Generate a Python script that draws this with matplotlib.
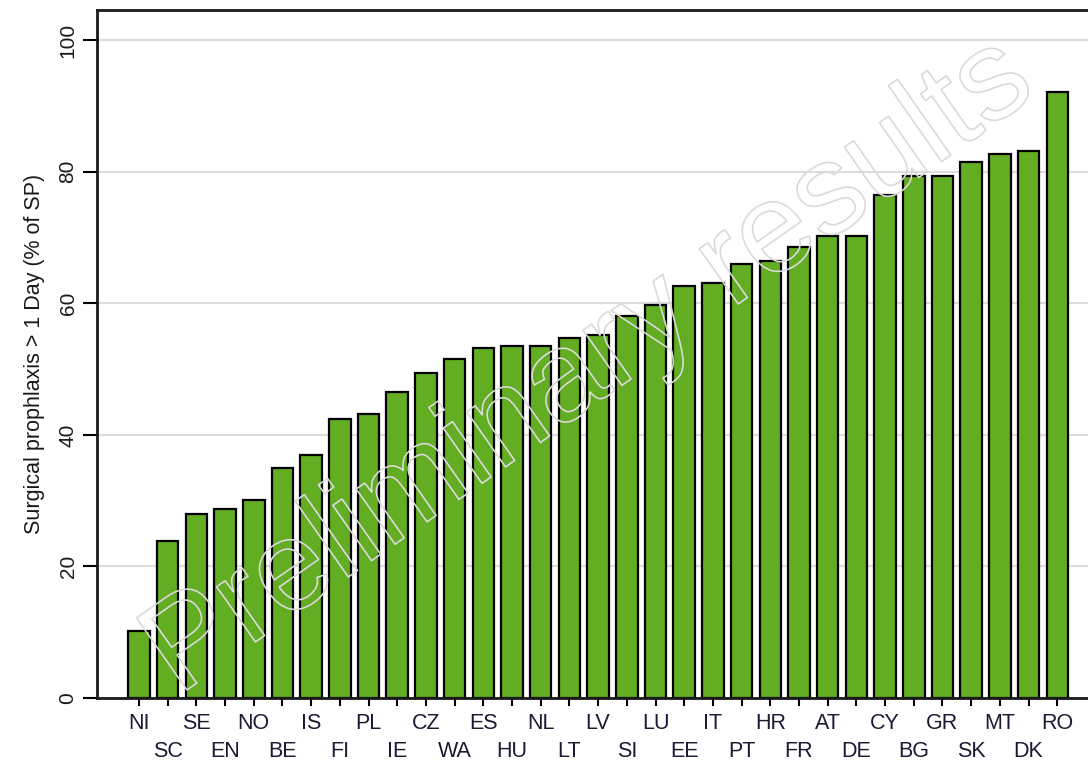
import matplotlib
matplotlib.use("Agg")
import matplotlib.pyplot as plt
import matplotlib.patheffects as pe

# Country codes (sorted ascending) and % of surgical prophylaxis > 1 day
countries = ["NI", "SC", "SE", "EN", "NO", "BE", "IS", "FI", "PL", "IE", "CZ",
             "WA", "ES", "HU", "NL", "LT", "LV", "SI", "LU", "EE", "IT", "PT",
             "HR", "FR", "AT", "DE", "CY", "BG", "GR", "SK", "MT", "DK", "RO"]
values = [10.2, 23.8, 27.9, 28.8, 30.1, 35.0, 37.0, 42.4, 43.2, 46.5, 49.4,
          51.5, 53.2, 53.5, 53.5, 54.8, 55.2, 58.0, 59.8, 62.7, 63.1, 66.0,
          66.4, 68.5, 70.2, 70.2, 76.5, 79.4, 79.4, 81.5, 82.7, 83.2, 92.2]
y_ticks = [0, 20, 40, 60, 80, 100]

plt.rcParams['font.family'] = ['Liberation Sans', 'DejaVu Sans']

fig = plt.figure(figsize=(10.88, 7.75), dpi=100)
ax = fig.add_axes([0.0892, 0.0994, 0.9108, 0.8877])

x = list(range(len(countries)))
ax.bar(x, values, width=0.75, color='#62ad22', edgecolor='black', linewidth=1.6, zorder=2)

ax.set_xlim(-1.46, 33.07)
ax.set_ylim(0, 104.6)

# grid
ax.set_yticks(y_ticks)
ax.set_yticklabels([str(v) for v in y_ticks], rotation=90, va='center', fontsize=15, color='#1a1a1a')
ax.yaxis.grid(True, color='#dcdcdc', linewidth=1.5, zorder=0)
ax.set_axisbelow(True)

# two-row x labels
labels = [c if i % 2 == 0 else "\n" + c for i, c in enumerate(countries)]
ax.set_xticks(x)
ax.set_xticklabels(labels, fontsize=15.5, color='#1a1a33', linespacing=1.4)
ax.tick_params(axis='x', length=6, width=1.5, direction='out', pad=5)
ax.tick_params(axis='y', length=10, width=1.5, direction='out', pad=4)

for side in ['left', 'bottom', 'top']:
    ax.spines[side].set_linewidth(2)
    ax.spines[side].set_color('#1a1a1a')
ax.spines['right'].set_visible(False)

ax.set_ylabel("Surgical prophlaxis > 1 Day (% of SP)", fontsize=15.5, labelpad=10, color='#1a1a1a')

# watermark
ax.text(0.497, 0.48, "Preliminary results", transform=ax.transAxes, rotation=35,
        ha='center', va='center', fontsize=92, color='none',
        path_effects=[pe.Stroke(linewidth=1.2, foreground='#dadada')], zorder=3)

plt.savefig("out.png", dpi=100)
